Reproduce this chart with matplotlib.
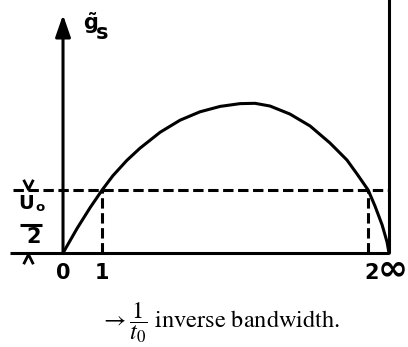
import numpy as np
import matplotlib
matplotlib.use('Agg')
import matplotlib.pyplot as plt
from matplotlib.path import Path

plt.rcParams['mathtext.fontset'] = 'stix'

# x: fraction of the way from origin (0) to the infinity line (1)
# y: in units of U0/2 (the dashed level)
curve_x = [0.0, 0.043, 0.083, 0.120, 0.153, 0.196, 0.236, 0.298, 0.359, 0.420,
           0.482, 0.543, 0.589, 0.635, 0.696, 0.758, 0.819, 0.871, 0.902, 0.936,
           0.957, 0.979, 0.994, 1.0]
curve_y = [0.0, 0.389, 0.719, 1.0, 1.227, 1.471, 1.663, 1.917, 2.108, 2.241,
           2.327, 2.371, 2.376, 2.333, 2.206, 2.016, 1.746, 1.476, 1.254, 1.0,
           0.746, 0.444, 0.175, 0.0]

level_y = 1.0                 # U0/2
cross_x = [0.120, 0.936]      # where curve meets U0/2
tick_x = [0.0, 0.120]
tick_labels = ['0', '1']
inf_x = 1.0

lw = 2.2
fig = plt.figure(figsize=(4.08, 3.47), dpi=100)
ax = fig.add_axes([0, 0, 1, 1])
ax.set_xlim(-0.1933, 1.0583)
ax.set_ylim(-1.492, 4.016)
ax.axis('off')

# axes
ax.plot([-0.163, inf_x], [0, 0], color='k', lw=lw, solid_capstyle='butt')
ax.plot([inf_x, inf_x], [0, 4.1], color='k', lw=lw, solid_capstyle='butt')
ax.annotate('', xy=(0, 3.78), xytext=(0, 0),
            arrowprops=dict(arrowstyle='-|>,head_length=0.95,head_width=0.33',
                            mutation_scale=14, lw=lw, color='k',
                            shrinkA=0, shrinkB=0))

# curve
ax.plot(curve_x, curve_y, color='k', lw=lw, solid_joinstyle='round')

# dashed guides
dash = (0, (3.4, 1.5))
ax.plot([-0.153, inf_x], [level_y, level_y], color='k', lw=lw, ls=dash)
for cx in cross_x:
    ax.plot([cx, cx], [0, level_y], color='k', lw=lw, ls=dash)

# dimension chevrons for U0/2
down = Path([(-0.5, 1), (0, 0), (0.5, 1)], [Path.MOVETO, Path.LINETO, Path.LINETO])
up = Path([(-0.5, -1), (0, 0), (0.5, -1)], [Path.MOVETO, Path.LINETO, Path.LINETO])
ax.plot([-0.107], [level_y + 0.02], marker=down, ms=14, mew=2, mfc='none', mec='k', ls='')
ax.plot([-0.107], [-0.02], marker=up, ms=14, mew=2, mfc='none', mec='k', ls='')

bold = dict(family='DejaVu Sans', fontweight='bold', color='k')
ax.text(-0.114, 0.78, 'U', fontsize=14, ha='center', va='center', **bold)
ax.text(-0.070, 0.72, 'o', fontsize=9.5, ha='center', va='center', **bold)
ax.plot([-0.132, -0.064], [0.44, 0.44], color='k', lw=lw, solid_capstyle='butt')
ax.text(-0.090, 0.25, '2', fontsize=15, ha='center', va='center', **bold)

# y label
ax.text(0.086, 3.66, 'g\u0303', fontsize=15, ha='center', va='center', **bold)
ax.text(0.121, 3.50, 's', fontsize=15, ha='center', va='center', **bold)

# tick labels
for tx, tl in zip(tick_x, tick_labels):
    ax.text(tx, -0.31, tl, fontsize=15, ha='center', va='center', **bold)
ax.text(0.946, -0.31, '2', fontsize=15, ha='center', va='center', **bold)
ax.text(1.012, -0.26, '\u221e', fontsize=26, ha='center', va='center', **bold)

# x label
ax.text(0.113, -1.19, r'$\rightarrow\dfrac{1}{t_0}$ inverse bandwidth.',
        family='STIXGeneral', fontsize=17.5, ha='left', va='baseline', color='k')

fig.savefig('out.png', dpi=100)
